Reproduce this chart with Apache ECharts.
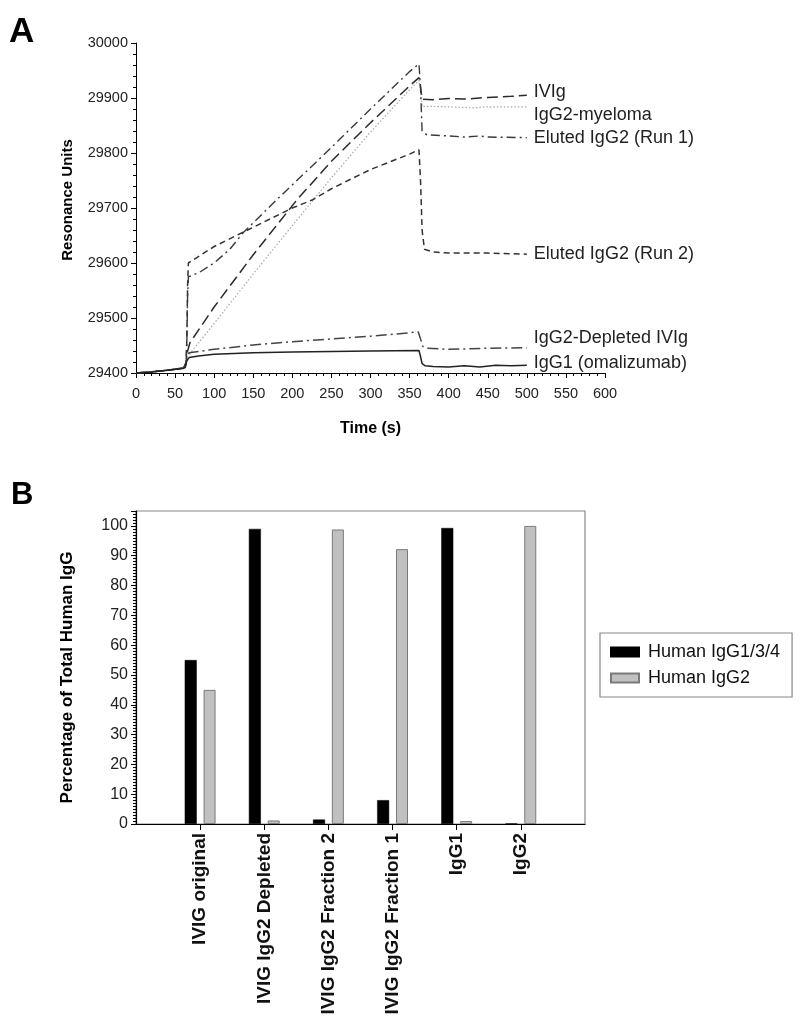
<!DOCTYPE html>
<html><head><meta charset="utf-8">
<script src="https://cdn.jsdelivr.net/npm/echarts@6/dist/echarts.min.js"></script>
<style>html,body{margin:0;padding:0;background:#fff}#c{width:800px;height:1019px}</style>
</head><body><div id="c"></div>
<script>
const FONT = '"Liberation Sans", Arial, sans-serif';

// ---------- Panel A: SPR sensorgrams, [time (s), resonance units] ----------
const ivig = [[0,29400],[20,29402],[40,29405],[60,29409],[64,29416],[66,29440],[69,29455],[100,29520],[150,29615],[206,29715],[250,29785],[300,29855],[350,29922],[362,29937],[364,29920],[366,29898],[380,29897],[400,29899],[420,29898],[450,29901],[480,29903],[500,29905]];
const igg2Myeloma = [[0,29400],[20,29402],[40,29405],[60,29409],[64,29414],[66,29430],[100,29490],[150,29580],[200,29668],[250,29755],[300,29838],[350,29915],[362,29932],[364,29910],[366,29885],[400,29884],[430,29882],[450,29884],[500,29884]];
const elutedRun1 = [[0,29400],[20,29402],[40,29405],[60,29409],[64,29418],[65,29450],[66,29540],[67,29575],[80,29582],[100,29600],[120,29625],[137,29655],[180,29715],[250,29810],[300,29880],[350,29948],[362,29962],[364,29920],[366,29840],[372,29833],[400,29831],[420,29829],[440,29831],[450,29829],[500,29828]];
const elutedRun2 = [[0,29400],[20,29402],[40,29405],[60,29409],[64,29418],[65,29460],[66,29560],[67,29600],[100,29630],[137,29656],[150,29665],[200,29700],[226,29715],[250,29735],[300,29770],[350,29798],[362,29806],[364,29750],[366,29660],[369,29625],[380,29620],[400,29618],[450,29618],[500,29616]];
const igg2Depleted = [[0,29400],[20,29402],[40,29405],[60,29409],[63,29412],[65,29430],[68,29437],[100,29443],[150,29451],[200,29457],[250,29462],[300,29467],[350,29473],[361,29475],[364,29462],[367,29448],[372,29445],[400,29443],[450,29445],[500,29446]];
const igg1Omalizumab = [[0,29400],[20,29402],[40,29405],[60,29408],[63,29410],[65,29422],[68,29428],[80,29431],[100,29434],[150,29437],[200,29438],[250,29439],[300,29440],[362,29441],[364,29430],[366,29417],[370,29413],[380,29412],[400,29411],[420,29413],[440,29411],[460,29414],[480,29413],[500,29414]];

// ---------- Panel B: percentage of total human IgG ----------
const categories = ['IVIG original','IVIG IgG2 Depleted','IVIG IgG2 Fraction 2','IVIG IgG2 Fraction 1','IgG1','IgG2'];
const igg134 = [55, 99, 1.5, 8, 99.3, 0.2];
const igg2 = [45, 1.2, 98.8, 92.2, 1.0, 100];

const padCats = [''].concat(categories, ['']);
const pad = arr => ['-'].concat(arr, ['-']);

function lineSeries(name, data, lineType, color, width, dy) {
  return {
    name, type: 'line', xAxisIndex: 0, yAxisIndex: 0, data,
    symbol: 'none', showSymbol: false,
    lineStyle: { type: lineType, color, width },
    endLabel: { show: true, formatter: '{a}', distance: 7, offset: [0, dy],
      fontFamily: FONT, fontSize: 18, color: '#222' },
    z: 3
  };
}

const tickFont = { fontFamily: FONT, color: '#222' };

const option = {
  animation: false,
  backgroundColor: '#fff',
  title: [
    { text: 'A', left: 4, top: 10, textStyle: { fontFamily: FONT, fontSize: 35, fontWeight: 'bold', color: '#000' } },
    { text: 'B', left: 6, top: 475, textStyle: { fontFamily: FONT, fontSize: 31, fontWeight: 'bold', color: '#000' } }
  ],
  grid: [
    { left: 136, top: 43, width: 469, height: 330, show: false },
    { left: 136, top: 511, width: 449, height: 313, show: true, borderColor: '#888', borderWidth: 1.2, backgroundColor: 'transparent' }
  ],
  legend: {
    data: ['Human IgG1/3/4', 'Human IgG2'],
    orient: 'vertical', left: 600, top: 633,
    borderColor: '#888', borderWidth: 1.2, padding: [10, 12, 10, 10],
    itemWidth: 28, itemHeight: 9, itemGap: 8, icon: 'rect',
    textStyle: { fontFamily: FONT, fontSize: 18, color: '#111', padding: [0, 0, 0, 4] }
  },
  xAxis: [
    { gridIndex: 0, type: 'value', min: 0, max: 600, interval: 50,
      axisLine: { lineStyle: { color: '#000', width: 1 } },
      axisTick: { length: 5, lineStyle: { color: '#000' } },
      minorTick: { show: true, splitNumber: 5, length: 3, lineStyle: { color: '#000' } },
      splitLine: { show: false },
      axisLabel: Object.assign({ fontSize: 14.5, margin: 13 }, tickFont),
      name: 'Time (s)', nameLocation: 'middle', nameGap: 48,
      nameTextStyle: { fontFamily: FONT, fontSize: 16, fontWeight: 'bold', color: '#000' } },
    { gridIndex: 1, type: 'category', data: padCats, boundaryGap: false,
      axisLine: { lineStyle: { color: '#000', width: 1.2 } },
      axisTick: { length: 6, interval: (i) => i > 0 && i < padCats.length - 1, lineStyle: { color: '#000' } },
      axisLabel: { interval: 0, rotate: 90, margin: 9, fontFamily: FONT, fontSize: 19, fontWeight: 'bold', color: '#111' },
      splitLine: { show: false } }
  ],
  yAxis: [
    { gridIndex: 0, type: 'value', min: 29400, max: 30000, interval: 100,
      axisLine: { show: true, lineStyle: { color: '#000', width: 1 } },
      axisTick: { show: true, length: 5, lineStyle: { color: '#000' } },
      minorTick: { show: true, splitNumber: 5, length: 3, lineStyle: { color: '#000' } },
      splitLine: { show: false },
      axisLabel: Object.assign({ fontSize: 14.5, margin: 8, formatter: v => String(v) }, tickFont),
      name: 'Resonance Units', nameLocation: 'middle', nameGap: 61,
      nameTextStyle: { fontFamily: FONT, fontSize: 15, fontWeight: 'bold', color: '#000', padding: [0, 0, 0, 16] } },
    { gridIndex: 1, type: 'value', min: 0, max: 105, interval: 10,
      axisLine: { show: true, lineStyle: { color: '#000', width: 1.2 } },
      axisTick: { show: true, length: 5, lineStyle: { color: '#000' } },
      minorTick: { show: true, splitNumber: 10, length: 3, lineStyle: { color: '#000' } },
      splitLine: { show: false },
      axisLabel: Object.assign({ fontSize: 16, margin: 8, showMaxLabel: false,
        formatter: v => (v % 10 === 0 ? String(v) : '') }, tickFont),
      name: 'Percentage of Total Human IgG', nameLocation: 'middle', nameGap: 60,
      nameTextStyle: { fontFamily: FONT, fontSize: 17, fontWeight: 'bold', color: '#000', padding: [0, 20, 0, 0] } }
  ],
  series: [
    lineSeries('IVIg', ivig, [11, 5], '#2a2a2a', 1.5, -3),
    lineSeries('IgG2-myeloma', igg2Myeloma, [1.5, 2], '#a8a8a8', 1.2, 8),
    lineSeries('Eluted IgG2 (Run 1)', elutedRun1, [9, 4, 2, 4], '#3a3a3a', 1.4, 0),
    lineSeries('Eluted IgG2 (Run 2)', elutedRun2, [6, 4], '#333', 1.5, 0),
    lineSeries('IgG2-Depleted IVIg', igg2Depleted, [11, 4, 2, 4], '#444', 1.5, -10),
    lineSeries('IgG1 (omalizumab)', igg1Omalizumab, 'solid', '#222', 1.5, -2),
    { name: 'Human IgG1/3/4', type: 'bar', xAxisIndex: 1, yAxisIndex: 1, data: pad(igg134),
      barWidth: 12, barGap: '57%', itemStyle: { color: '#000', borderColor: '#000', borderWidth: 0.5 } },
    { name: 'Human IgG2', type: 'bar', xAxisIndex: 1, yAxisIndex: 1, data: pad(igg2),
      barWidth: 12, barGap: '57%', itemStyle: { color: '#c0c0c0', borderColor: '#7a7a7a', borderWidth: 1 } }
  ]
};

const chart = echarts.init(document.getElementById('c'), null, { renderer: 'canvas' });
chart.setOption(option);
</script>
</body></html>
